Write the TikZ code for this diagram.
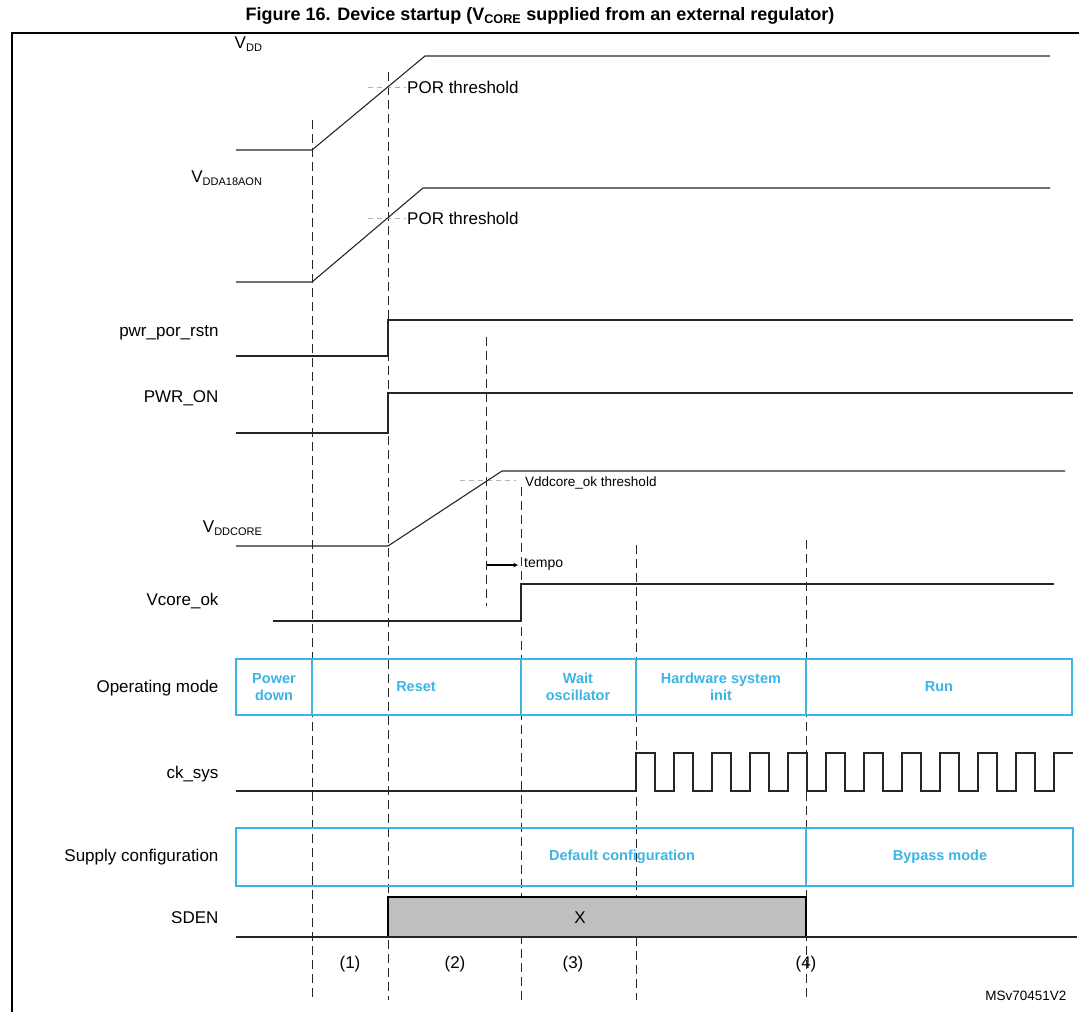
\documentclass[tikz,border=0pt]{standalone}
\usepackage{fontspec}
\setmainfont{Liberation Sans}
\definecolor{stc}{HTML}{3CB4E5}
\begin{document}
\begin{tikzpicture}[x=1pt,y=-1pt,
  sig/.style={line width=1.1pt,black!85},
  vdash/.style={dashed,dash pattern=on 9pt off 5pt,line width=0.9pt,black!85},
  thr/.style={dashed,dash pattern=on 5pt off 4pt,gray!60,line width=0.8pt},
  lbl/.style={anchor=east,font=\fontsize{17}{20}\selectfont},
  stbox/.style={draw=stc,line width=1.1pt},
  sttext/.style={text=stc,font=\bfseries\fontsize{14.5}{17}\selectfont,align=center},
  thrtext/.style={anchor=west,font=\fontsize{17}{20}\selectfont,inner sep=1pt}]
\useasboundingbox (0,0) rectangle (1079,1012);
\node[font=\bfseries\fontsize{18}{21}\selectfont,inner sep=0pt] (title) at (540,16) {Figure 16. Device startup (V\textsubscript{CORE} supplied from an external regulator)};
\draw[line width=1.4pt] (12,1014) -- (12,33) -- (1081,33);
% vertical dashed
\draw[vdash] (312,120) -- (312,1000);
\draw[vdash] (388,72) -- (388,1000);
\draw[vdash] (486,337) -- (486,606);
\draw[vdash] (521,487) -- (521,1000);
\draw[vdash] (636,545) -- (636,1000);
\draw[vdash] (806,540) -- (806,1000);
% labels
\node[lbl] (l1) at (266,44) {V\textsubscript{\fontsize{11}{12}\selectfont DD}};
\node[lbl] (l2) at (266,178) {V\textsubscript{\fontsize{11}{12}\selectfont DDA18AON}};
\node[lbl] (l3) at (222,333) {pwr\_por\_rstn};
\node[lbl] (l4) at (222,398) {PWR\_ON};
\node[lbl] (l5) at (266,528) {V\textsubscript{\fontsize{11}{12}\selectfont DDCORE}};
\node[lbl] (l6) at (222,601) {Vcore\_ok};
\node[lbl] (l7) at (222,688) {Operating mode};
\node[lbl] (l8) at (222,774) {ck\_sys};
\node[lbl] (l9) at (222,857) {Supply configuration};
\node[lbl] (l10) at (222,918) {SDEN};
% VDD
\draw[thr] (368,87) -- (406,87);
\draw[sig] (236,150) -- (312,150) -- (425,56) -- (1050,56);
\node[thrtext] (p1) at (406,87) {POR threshold};
% VDDA18AON
\draw[thr] (368,218) -- (406,218);
\draw[sig] (236,282) -- (312,282) -- (423,188) -- (1050,188);
\node[thrtext] (p2) at (406,218) {POR threshold};
% pwr_por_rstn
\draw[sig] (236,356) -- (388,356) -- (388,320) -- (1073,320);
% PWR_ON
\draw[sig] (236,433) -- (388,433) -- (388,393) -- (1073,393);
% VDDCORE
\draw[thr] (460,480) -- (516,480);
\draw[sig] (236,546) -- (388,546) -- (502,471) -- (1065,471);
\node[thrtext,font=\fontsize{13.5}{16}\selectfont] (p3) at (524,483) {Vddcore\_ok threshold};
% tempo
\coordinate (ta) at (487,565);
\coordinate (tb) at (518,565);
\draw[-stealth,line width=1.1pt] (ta) -- (tb);
\node[thrtext,font=\fontsize{14}{16}\selectfont] (tp) at (523,564) {tempo};
% Vcore_ok
\draw[sig] (273,621) -- (521,621) -- (521,584) -- (1054,584);
% Operating mode
\draw[stbox] (236,659) rectangle (1072,715);
\foreach \x in {312,521,636,806} \draw[stbox] (\x,659) -- (\x,715);
\node[sttext] (m1) at (274,687) {Power\\down};
\node[sttext] (m2) at (416,687) {Reset};
\node[sttext] (m3) at (578,687) {Wait\\oscillator};
\node[sttext] (m4) at (721,687) {Hardware system\\init};
\node[sttext] (m5) at (939,687) {Run};
% ck_sys
\draw[sig] (236,791) -- (636,791)
  \foreach \i in {0,...,10} { -- ++(0,-38) -- ++(19,0) -- ++(0,38) -- ++(19,0) }
  -- ++(0,-38) -- ++(19,0);
% Supply configuration
\draw[stbox] (236,828) rectangle (1073,886);
\draw[stbox] (806,828) -- (806,886);
\node[sttext] (s1) at (622,857) {Default configuration};
\node[sttext] (s2) at (940,857) {Bypass mode};
% SDEN
\draw[line width=1.1pt,fill=gray!50] (388,937) -- (388,897) -- (806,897) -- (806,937);
\draw[sig] (236,937) -- (1077,937);
\node[font=\fontsize{17}{20}\selectfont] (x) at (580,918) {X};
\foreach \x/\t in {350/1,455/2,573/3,806/4} \node[font=\fontsize{17}{20}\selectfont] at (\x,964) {(\t)};
\node[anchor=east,font=\fontsize{13.5}{16}\selectfont] (id) at (1070,996) {MSv70451V2};
\end{tikzpicture}
\end{document}
